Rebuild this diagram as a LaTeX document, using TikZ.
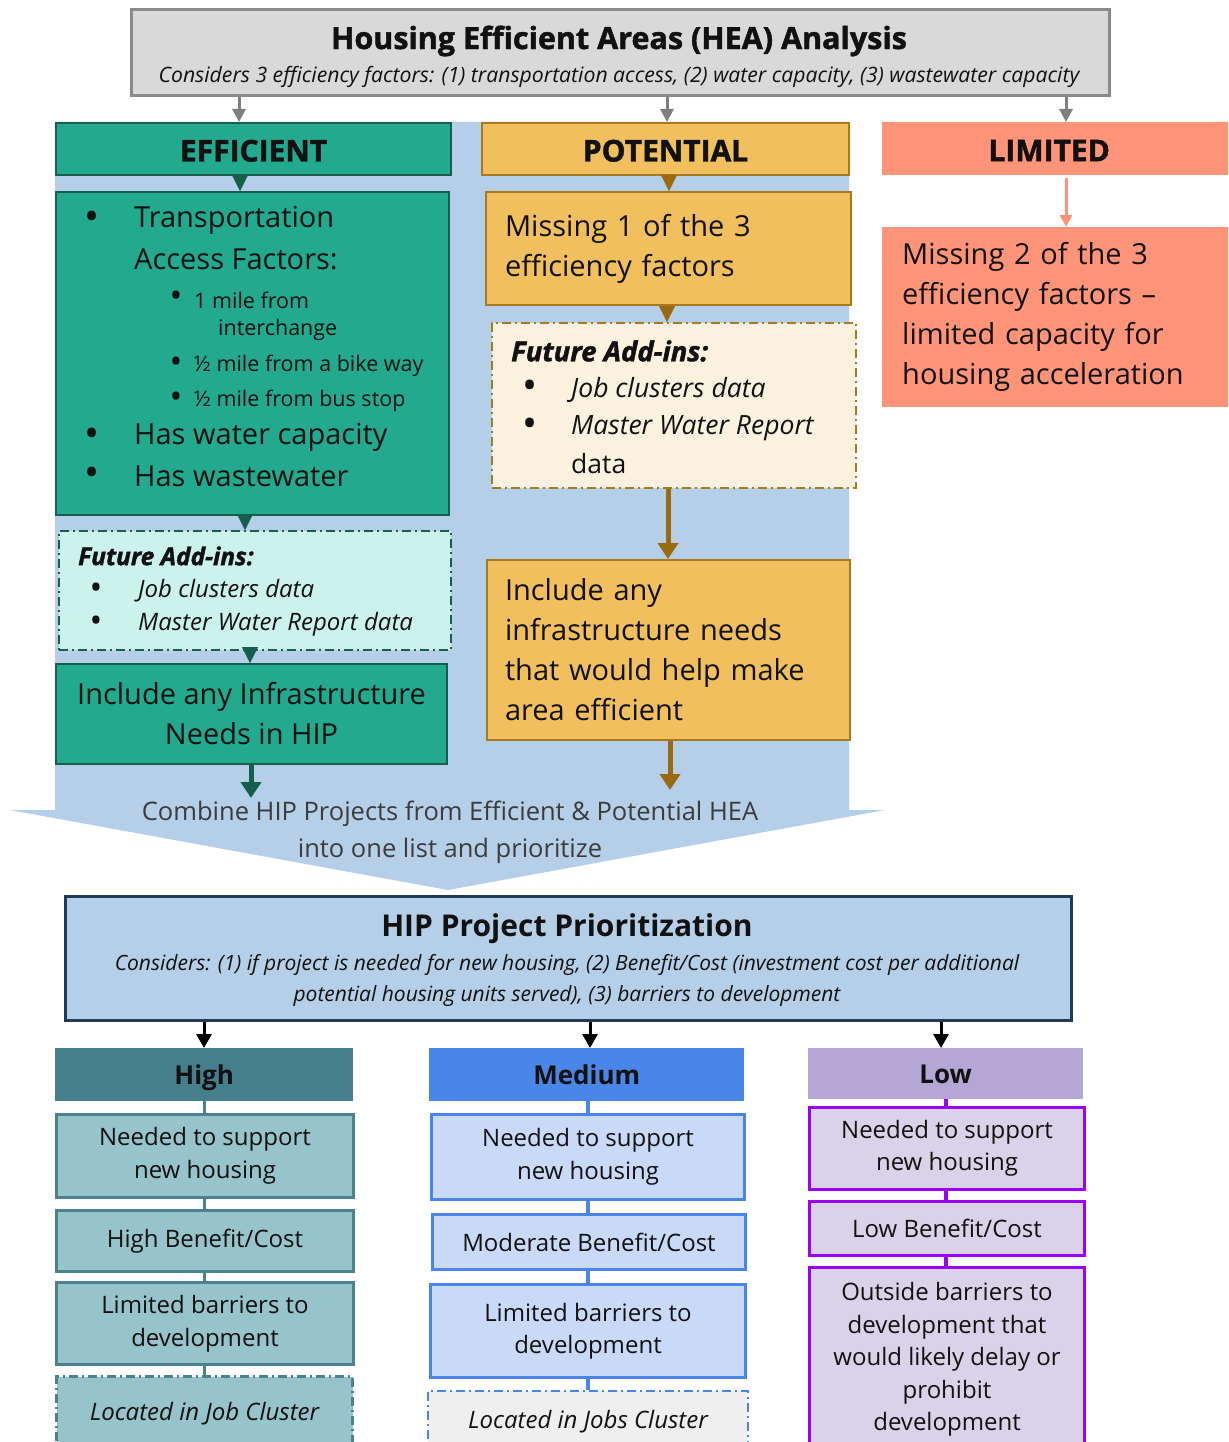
\documentclass[tikz,border=0pt]{standalone}
\usepackage{fontspec}
\setmainfont{Open Sans}
\newfontfamily\heavy{Open Sans}[FakeBold=1.5]
\usetikzlibrary{arrows.meta}
\definecolor{cGray}{HTML}{D9D9D9}
\definecolor{cGrayD}{HTML}{8A8A8A}
\definecolor{cArrG}{HTML}{7F7F7F}
\definecolor{cBg}{HTML}{B4CFE7}
\definecolor{cTeal}{HTML}{22A98E}
\definecolor{cTealD}{HTML}{1A5C4E}
\definecolor{cTealA}{HTML}{155E4F}
\definecolor{cMint}{HTML}{CCF3EB}
\definecolor{cGold}{HTML}{F1BF5E}
\definecolor{cGoldD}{HTML}{A87A1E}
\definecolor{cGoldA}{HTML}{9A6A10}
\definecolor{cCream}{HTML}{FDF1DF}
\definecolor{cSalmon}{HTML}{FF9478}
\definecolor{cNavy}{HTML}{213A58}
\definecolor{cHighH}{HTML}{467F8B}
\definecolor{cHighL}{HTML}{97C3CB}
\definecolor{cHighD}{HTML}{4A8290}
\definecolor{cMedH}{HTML}{4A86E8}
\definecolor{cMedL}{HTML}{C9DAF8}
\definecolor{cMedG}{HTML}{EFEFEF}
\definecolor{cLowH}{HTML}{B4A7D6}
\definecolor{cLowL}{HTML}{D9D2E9}
\definecolor{cLowD}{HTML}{9900FF}
\definecolor{cText}{HTML}{111111}
\definecolor{cComb}{HTML}{3C3C3C}
\newcommand\bx[7]{\node[#2,anchor=north west,minimum width={#5-#3},minimum height={#6-#4},inner sep=0pt] (#1) at (#3,#4) {#7};}
\newcommand\fhead{\heavy\bfseries\fontsize{30}{34}\selectfont}
\newcommand\fbody{\fontsize{29}{40}\selectfont}
\newcommand\fsubl{\fontsize{21.5}{24}\selectfont}
\newcommand\fbot{\fontsize{24}{32.5}\selectfont}
\newcommand\fbh{\bfseries\fontsize{26}{30}\selectfont}
\tikzset{
  heabox/.style={fill=cGray,draw=cGrayD,line width=3},
  effbox/.style={fill=cTeal,draw=cTealD,line width=2},
  potbox/.style={fill=cGold,draw=cGoldD,line width=2},
  limbox/.style={fill=cSalmon},
  dashdot/.style={dash pattern=on 9pt off 4pt on 2pt off 4pt},
  effadd/.style={fill=cMint,draw=cTealD,line width=2,dashdot},
  potadd/.style={fill=cCream,draw=cGoldD,line width=2,dashdot},
  hipbox/.style={fill=cBg,draw=cNavy,line width=3},
  toptxt/.style={font=\fhead,text=cText,text height=28pt,text depth=3pt},
  hdrtxt/.style={text height=23pt,text depth=3.4pt},
  hh/.style={fill=cHighH,font=\fbh,text=cText,hdrtxt},
  hb/.style={fill=cHighL,draw=cHighD,line width=3,font=\fbot,align=center,text=cText},
  mh/.style={fill=cMedH,font=\fbh,text=cText,hdrtxt},
  mb/.style={fill=cMedL,draw=cMedH,line width=3,font=\fbot,align=center,text=cText},
  lh/.style={fill=cLowH,font=\fbh,text=cText,hdrtxt},
  lb/.style={fill=cLowL,draw=cLowD,line width=3,font=\fbot,align=center,text=cText},
  txt/.style={anchor=west,inner sep=0pt,text=cText},
  bul/.style={inner sep=0pt,text=cText},
  bigbul/.style={bul,font=\fontsize{40}{40}\selectfont},
  smbul/.style={bul,font=\fontsize{34}{34}\selectfont},
  garr/.style={draw=cArrG,line width=3,-{Triangle[width=13pt,length=13pt]}},
  tri/.style={draw=#1,line width=0.1,-{Triangle[width=16pt,length=16pt]}},
  thick/.style={draw=#1,line width=5,-{Triangle[width=20pt,length=16pt]}},
  barr/.style={draw=black,line width=3,-{Triangle[width=15pt,length=14pt]}},
  link/.style={draw=#1,line width=3},
}
\begin{document}
\begin{tikzpicture}[x=1pt,y=-1pt]
\useasboundingbox (0,0) rectangle (1228,1442);
\clip (0,0) rectangle (1228,1442);
\fill[white] (0,0) rectangle (1228,1442);
% blue background with chevron
\fill[cBg] (55,122) -- (849,122) -- (849,810) -- (885,810) -- (448,890) -- (10,810) -- (55,810) -- cycle;

% top box
\bx{hea}{heabox}{130}{8}{1108}{94}{}
\node[inner sep=0pt,font=\heavy\bfseries\fontsize{30.5}{32}\selectfont,text=cText] (heaT) at (619,41) {Housing Efficient Areas (HEA) Analysis};
\node[inner sep=0pt,font=\itshape\fontsize{21.2}{24}\selectfont,text=cText] (heaS) at (619,77) {Considers 3 efficiency factors: (1) transportation access, (2) water capacity, (3) wastewater capacity};

% headers
\bx{effh}{effbox,toptxt}{55}{122}{450}{174}{EFFICIENT}
\bx{poth}{potbox,toptxt}{481}{122}{848}{174}{POTENTIAL}
\bx{limh}{limbox,toptxt}{882}{122}{1240}{175}{\hspace*{-24pt}LIMITED}

\coordinate (xa) at (239,0);
\coordinate (xb) at (667,0);
\coordinate (xc) at (1066,0);
\draw[garr] (hea.south -| xa) -- (effh.north -| xa);
\draw[garr] (hea.south -| xb) -- (poth.north -| xb);
\draw[garr] (hea.south -| xc) -- (limh.north -| xc);

% efficient column
\bx{effl}{effbox}{55}{191}{448}{514}{}
\node[bigbul] (b1) at (92,221) {•};
\node[txt,font=\fbody] (t1) at (134,220) {Transportation};
\node[txt,font=\fbody] (t2) at (134,259) {Access Factors:};
\node[smbul] (b2) at (176,299) {•};
\node[txt,font=\fsubl] (t3) at (194,300) {1 mile from};
\node[txt,font=\fsubl] (t4) at (218,330) {interchange};
\node[smbul] (b3) at (176,365) {•};
\node[txt,font=\fsubl] (t5) at (194,366) {½ mile from a bike way};
\node[smbul] (b4) at (176,400) {•};
\node[txt,font=\fsubl] (t6) at (194,401) {½ mile from bus stop};
\node[bigbul] (b5) at (92,438) {•};
\node[txt,font=\fbody] (t7) at (134,437) {Has water capacity};
\node[bigbul] (b6) at (92,477) {•};
\node[txt,font=\fbody] (t8) at (134,476) {Has wastewater};

\bx{effa}{effadd}{58}{530}{450}{649}{}
\node[txt,font=\heavy\bfseries\itshape\fontsize{24.5}{28}\selectfont] (ea1) at (78,556) {Future Add-ins:};
\node[smbul] (eb1) at (96,591) {•};
\node[txt,font=\itshape\fontsize{24}{28}\selectfont] (ea2) at (138,591) {Job clusters data};
\node[smbul] (eb2) at (96,624) {•};
\node[txt,font=\itshape\fontsize{24}{28}\selectfont] (ea3) at (138,624) {Master Water Report data};

\bx{effi}{effbox,font=\fbody,align=center,text=cText}{55}{663}{446}{763}{Include any Infrastructure\\Needs in HIP}

\coordinate (x1) at (240,0);
\coordinate (x2) at (245,0);
\coordinate (x3) at (250,0);
\draw[tri=cTealA] (effh.south -| x1) -- (effl.north -| x1);
\draw[tri=cTealA] (effl.south -| x2) -- (effa.north -| x2);
\draw[tri=cTealA] (effa.south -| x3) -- (effi.north -| x3);
\coordinate (e1) at (251,798);
\draw[thick=cTealA] (effi.south -| e1) -- (e1);

% potential column
\bx{potm}{potbox,font=\fbody,align=left,text width=327,text=cText}{485}{191}{850}{304}{Missing 1 of the 3\\efficiency factors}
\bx{pota}{potadd}{491}{322}{855}{487}{}
\node[txt,font=\heavy\bfseries\itshape\fontsize{27.5}{30}\selectfont] (pa1) at (511,351) {Future Add-ins:};
\node[bigbul] (pb1) at (530,390) {•};
\node[txt,font=\itshape\fontsize{26.5}{30}\selectfont] (pa2) at (571,390) {Job clusters data};
\node[bigbul] (pb2) at (530,428) {•};
\node[txt,font=\itshape\fontsize{26.5}{30}\selectfont] (pa3) at (571,428) {Master Water Report};
\node[txt,font=\fontsize{26.5}{30}\selectfont] (pa4) at (571,464) {data};
\bx{poti}{potbox,font=\fbody,align=left,text width=327,text=cText}{486}{559}{849}{739}{Include any\\infrastructure needs\\that would help make\\area efficient}

\coordinate (x4) at (669,0);
\coordinate (x5) at (667,0);
\coordinate (x6) at (668,0);
\draw[tri=cGoldA] (poth.south -| x4) -- (potm.north -| x4);
\draw[tri=cGoldA] (potm.south -| x5) -- (pota.north -| x5);
\draw[thick=cGoldA] (pota.south -| x6) -- (poti.north -| x6);
\coordinate (e2) at (670,790);
\draw[thick=cGoldA] (poti.south -| e2) -- (e2);

% limited column
\bx{limb}{limbox,font=\fbody,align=left,text width=380,text=cText}{882}{227}{1302}{407}{Missing 2 of the 3\\efficiency factors --\\limited capacity for\\housing acceleration}
\draw[draw=cSalmon,line width=3,-{Triangle[width=12pt,length=12pt]}] ([yshift=-3pt]limh.south -| xc) -- (limb.north -| xc);

% combine text
\node[inner sep=0pt,align=center,font=\fontsize{25.5}{37}\selectfont,text=cComb] (comb) at (450,832) {Combine HIP Projects from Efficient \& Potential HEA\\into one list and prioritize};

% HIP box
\bx{hip}{hipbox}{64}{895}{1070}{1019}{}
\node[inner sep=0pt,font=\bfseries\fontsize{30}{34}\selectfont,text=cText] (hipT) at (567,929) {HIP Project Prioritization};
\node[inner sep=0pt,align=center,font=\itshape\fontsize{21}{31}\selectfont,text=cText] (hipS) at (567,980.5) {Considers: (1) if project is needed for new housing, (2) Benefit/Cost (investment cost per additional\\potential housing units served), (3) barriers to development};

% High column
\bx{hH}{hh}{55}{1048}{353}{1101}{High}
\bx{h1}{hb}{55}{1113}{352}{1196}{Needed to support\\new housing}
\bx{h2}{hb}{55}{1209}{352}{1270}{High Benefit/Cost}
\bx{h3}{hb}{55}{1281}{352}{1363}{Limited barriers to\\development}
\bx{h4}{hb,dashdot}{55}{1375}{351}{1450}{\itshape Located in Job Cluster}
% Medium column
\bx{mH}{mh}{429}{1048}{744}{1101}{Medium}
\bx{m1}{mb}{430}{1113}{743}{1198}{Needed to support\\new housing}
\bx{m2}{mb}{431}{1213}{744}{1268}{Moderate Benefit/Cost}
\bx{m3}{mb}{429}{1283}{744}{1376}{Limited barriers to\\development}
\bx{m4}{mb,fill=cMedG,dashdot,line width=2}{427}{1390}{747}{1452}{\itshape Located in Jobs Cluster}
% Low column
\bx{lH}{lh}{808}{1048}{1083}{1099}{Low}
\bx{l1}{lb}{808}{1106}{1083}{1188}{Needed to support\\new housing}
\bx{l2}{lb}{808}{1200}{1083}{1254}{Low Benefit/Cost}
\bx{l3}{lb}{808}{1266}{1083}{1450}{Outside barriers to\\development that\\would likely delay or\\prohibit\\development}

\coordinate (xh) at (204,0);
\coordinate (xm) at (590,0);
\coordinate (xl) at (941,0);
\coordinate (xhl) at (204,0);
\coordinate (xml) at (588,0);
\coordinate (xll) at (946,0);
\draw[barr] (hip.south -| xh) -- (hH.north -| xh);
\draw[barr] (hip.south -| xm) -- (mH.north -| xm);
\draw[barr] (hip.south -| xl) -- (lH.north -| xl);
\draw[link=cHighD] (hH.south -| xhl) -- (h1.north -| xhl);
\draw[link=cHighD] (h1.south -| xhl) -- (h2.north -| xhl);
\draw[link=cHighD] (h2.south -| xhl) -- (h3.north -| xhl);
\draw[link=cHighD] (h3.south -| xhl) -- (h4.north -| xhl);
\draw[link=cMedH,line width=4] (mH.south -| xml) -- (m1.north -| xml);
\draw[link=cMedH,line width=4] (m1.south -| xml) -- (m2.north -| xml);
\draw[link=cMedH,line width=4] (m2.south -| xml) -- (m3.north -| xml);
\draw[link=cMedH,line width=4] (m3.south -| xml) -- (m4.north -| xml);
\draw[link=cLowD,line width=4] (lH.south -| xll) -- (l1.north -| xll);
\draw[link=cLowD,line width=4] (l1.south -| xll) -- (l2.north -| xll);
\draw[link=cLowD,line width=4] (l2.south -| xll) -- (l3.north -| xll);
\end{tikzpicture}
\end{document}
